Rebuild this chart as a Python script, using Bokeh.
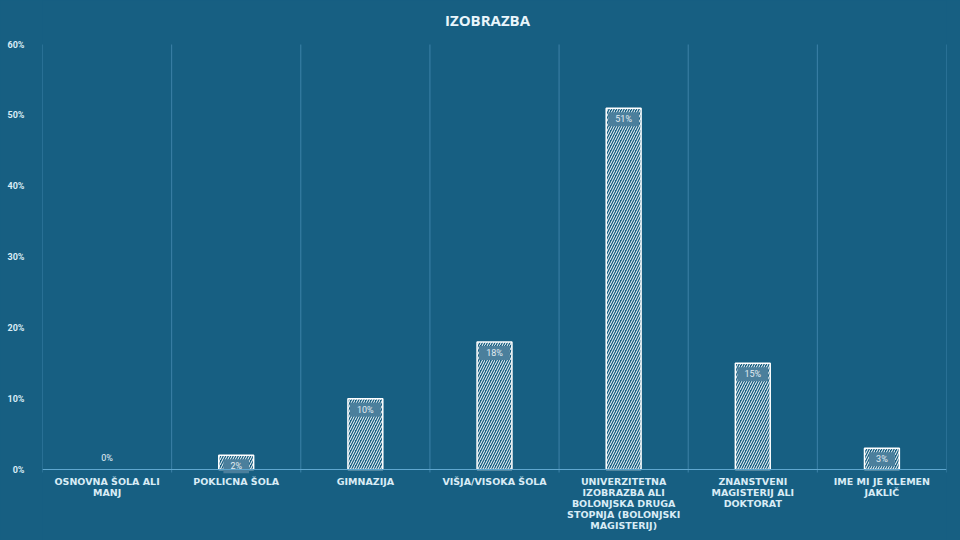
from bokeh.plotting import figure
from bokeh.models import ColumnDataSource, Span, FixedTicker, PrintfTickFormatter, Range1d
from bokeh.core.properties import value
from bokeh.embed import file_html
from bokeh.resources import INLINE

title = "IZOBRAZBA"
categories = [
    "OSNOVNA ŠOLA ALI MANJ",
    "POKLICNA ŠOLA",
    "GIMNAZIJA",
    "VIŠJA/VISOKA ŠOLA",
    "UNIVERZITETNA IZOBRAZBA ALI BOLONJSKA DRUGA STOPNJA (BOLONJSKI MAGISTERIJ)",
    "ZNANSTVENI MAGISTERIJ ALI DOKTORAT",
    "IME MI JE KLEMEN JAKLIČ",
]
wrapped_labels = [
    "OSNOVNA ŠOLA ALI\nMANJ",
    "POKLICNA ŠOLA",
    "GIMNAZIJA",
    "VIŠJA/VISOKA ŠOLA",
    "UNIVERZITETNA\nIZOBRAZBA ALI\nBOLONJSKA DRUGA\nSTOPNJA (BOLONJSKI\nMAGISTERIJ)",
    "ZNANSTVENI\nMAGISTERIJ ALI\nDOKTORAT",
    "IME MI JE KLEMEN\nJAKLIČ",
]
values = [0, 2, 10, 18, 51, 15, 3]
y_ticks = [0, 10, 20, 30, 40, 50, 60]

BG = "#175f82"
GRID = "#3d82a8"
AXIS = "#5fa7cf"
TXT = "#d9ecf6"

W, H = 960, 540
TOP, BOTTOM = 44, 71            # pixel margins of the value area inside the frame
Y_MAX = y_ticks[-1]
ppu = (H - TOP - BOTTOM) / Y_MAX
y_lo = -BOTTOM / ppu
y_hi = Y_MAX + TOP / ppu

p = figure(x_range=categories, y_range=Range1d(y_lo, y_hi), width=W, height=H,
           output_backend="svg", toolbar_location=None, x_axis_location=None,
           min_border_left=42, min_border_right=14, min_border_top=0, min_border_bottom=0)
p.background_fill_color = BG
p.border_fill_color = BG
p.outline_line_color = None
p.xgrid.grid_line_color = None
p.ygrid.grid_line_color = None

n = len(categories)

# title drawn as text above the value area (centred on the page)
p.text(x=[n / 2], y=[Y_MAX], text=[title], x_offset=-7, y_offset=-25,
       text_align="center", text_baseline="middle", text_font=value("Open Sans"),
       text_font_size="15px", text_font_style="bold", text_color="#e9f5fb")

# vertical grid lines at category boundaries
bounds = list(range(n + 1))
p.segment(x0=bounds, y0=[-3 / ppu] * (n + 1), x1=bounds, y1=[Y_MAX] * (n + 1),
          line_color=GRID, line_width=1)
# x axis line
p.add_layout(Span(location=0, dimension="width", line_color=AXIS, line_width=1))

labels = [f"{v}%" for v in values]
nz = [i for i, v in enumerate(values) if v > 0]
z = [i for i, v in enumerate(values) if v == 0]

src_bars = ColumnDataSource(dict(cat=[categories[i] for i in nz], val=[values[i] for i in nz]))
p.vbar(x="cat", top="val", bottom=0, width=0.27, source=src_bars,
       fill_color=BG, line_color="#ffffff", line_width=1.5,
       hatch_pattern="right_diagonal_line", hatch_color="#ffffff",
       hatch_scale=5, hatch_weight=1.0)

src_nz = ColumnDataSource(dict(cat=[categories[i] for i in nz], val=[values[i] for i in nz],
                               lab=[labels[i] for i in nz]))
src_z = ColumnDataSource(dict(cat=[categories[i] for i in z], val=[values[i] for i in z],
                              lab=[labels[i] for i in z]))

p.text(x="cat", y="val", text="lab", source=src_nz, text_align="center",
       text_baseline="top", y_offset=4, text_font=value("Roboto"), text_font_size="9px",
       text_color="#e2edf3", background_fill_color="#4b7f9c", background_fill_alpha=1.0,
       padding=[7, 2])
p.text(x="cat", y="val", text="lab", source=src_z, text_align="center",
       text_baseline="bottom", y_offset=-7, text_font=value("Roboto"), text_font_size="9px",
       text_color="#e6f2f8")

# multi-line category labels below the axis
lx, ly, lt, lo = [], [], [], []
for cat, wl in zip(categories, wrapped_labels):
    for k, line in enumerate(wl.split("\n")):
        lx.append(cat)
        ly.append(0)
        lt.append(line)
        lo.append(12 + 11 * k)
src_lab = ColumnDataSource(dict(x=lx, y=ly, t=lt, o=lo))
p.text(x="x", y="y", text="t", y_offset="o", source=src_lab, text_align="center",
       text_baseline="middle", text_font=value("DejaVu Sans"), text_font_style="bold",
       text_font_size="9.5px", text_color=TXT)

p.yaxis.ticker = FixedTicker(ticks=y_ticks)
p.yaxis.formatter = PrintfTickFormatter(format="%d%%")
p.yaxis.axis_line_color = None
p.yaxis.major_tick_line_color = None
p.yaxis.minor_tick_line_color = None
p.yaxis.major_label_text_color = TXT
p.yaxis.major_label_text_font = "Roboto"
p.yaxis.major_label_text_font_style = "bold"
p.yaxis.major_label_text_font_size = "9px"
p.yaxis.major_label_standoff = 12

html = file_html(p, INLINE)
html = html.replace("<head>", "<head><style>html,body{background:%s;}</style>" % BG, 1)
open("out.html", "w").write(html)
